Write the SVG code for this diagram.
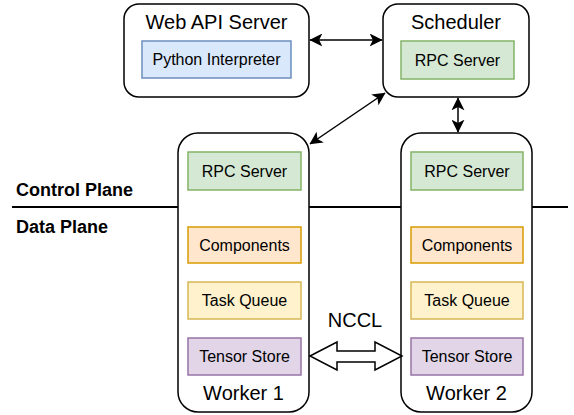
<svg xmlns="http://www.w3.org/2000/svg" width="574" height="415" viewBox="0 0 574 415">
<defs>
<marker id="ah" viewBox="0 0 10 10" refX="9.5" refY="5" markerWidth="13" markerHeight="13" markerUnits="userSpaceOnUse" orient="auto-start-reverse">
<path d="M0,0 L10,5 L0,10 L2.5,5 z" fill="#000"/>
</marker>
</defs>
<style>
text{font-family:"Liberation Sans",Arial,sans-serif;fill:#000;text-anchor:middle;dominant-baseline:central}
.outer{fill:#fff;stroke:#000;stroke-width:1.5}
.t{font-size:20px}
.s{font-size:16px}
.blue{fill:#dae8fc;stroke:#6c8ebf;stroke-width:1.5}
.green{fill:#d5e8d4;stroke:#82b366;stroke-width:1.5}
.orange{fill:#ffe6cc;stroke:#d79b00;stroke-width:1.5}
.yellow{fill:#fff2cc;stroke:#d6b656;stroke-width:1.5}
.purple{fill:#e1d5e7;stroke:#9673a6;stroke-width:1.5}
.c{stroke:#000;stroke-width:1.5;fill:none;marker-start:url(#ah);marker-end:url(#ah)}
.lbl{font-size:18px;font-weight:bold;text-anchor:start}
</style>
<g id="planes">
<line x1="12" y1="207" x2="568" y2="207" stroke="#000" stroke-width="2"/>
<text class="lbl" x="16" y="190">Control Plane</text>
<text class="lbl" x="16" y="227">Data Plane</text>
</g>
<g id="webapi">
<rect class="outer" x="124" y="4" width="185" height="93" rx="15"/>
<text class="t" x="216.5" y="22">Web API Server</text>
<rect class="blue" x="142" y="41" width="149" height="37"/>
<text class="s" x="216.5" y="59.5">Python Interpreter</text>
</g>
<g id="scheduler">
<rect class="outer" x="383" y="4" width="146" height="93" rx="15"/>
<text class="t" x="456" y="22">Scheduler</text>
<rect class="green" x="401" y="41" width="113" height="38"/>
<text class="s" x="457.5" y="60">RPC Server</text>
</g>
<g id="worker1">
<rect class="outer" x="178" y="133" width="131" height="279" rx="20"/>
<rect class="green" x="188" y="152" width="113" height="38"/>
<text class="s" x="244.5" y="171">RPC Server</text>
<rect class="orange" x="188" y="227" width="113" height="36"/>
<text class="s" x="244.5" y="245">Components</text>
<rect class="yellow" x="188" y="282" width="113" height="37"/>
<text class="s" x="244.5" y="300.5">Task Queue</text>
<rect class="purple" x="188" y="338" width="113" height="37"/>
<text class="s" x="244.5" y="356.5">Tensor Store</text>
<text class="t" x="243.5" y="393">Worker 1</text>
</g>
<g id="worker2">
<rect class="outer" x="401" y="133" width="131" height="279" rx="20"/>
<rect class="green" x="411" y="152" width="112" height="38"/>
<text class="s" x="467" y="171">RPC Server</text>
<rect class="orange" x="411" y="227" width="112" height="36"/>
<text class="s" x="467" y="245">Components</text>
<rect class="yellow" x="411" y="282" width="112" height="37"/>
<text class="s" x="467" y="300.5">Task Queue</text>
<rect class="purple" x="411" y="338" width="112" height="37"/>
<text class="s" x="467" y="356.5">Tensor Store</text>
<text class="t" x="466.5" y="393">Worker 2</text>
</g>
<g id="connectors">
<line class="c" x1="310" y1="40" x2="382" y2="40"/>
<line class="c" x1="310" y1="144" x2="385" y2="93"/>
<line class="c" x1="458" y1="98" x2="458" y2="132"/>
<polygon points="310,356 337,342 337,351 375,351 375,342 402,356 375,370 375,362 337,362 337,370" fill="#fff" stroke="#000" stroke-width="1.5" stroke-linejoin="miter"/>
<text class="t" x="355" y="320">NCCL</text>
</g>
</svg>
